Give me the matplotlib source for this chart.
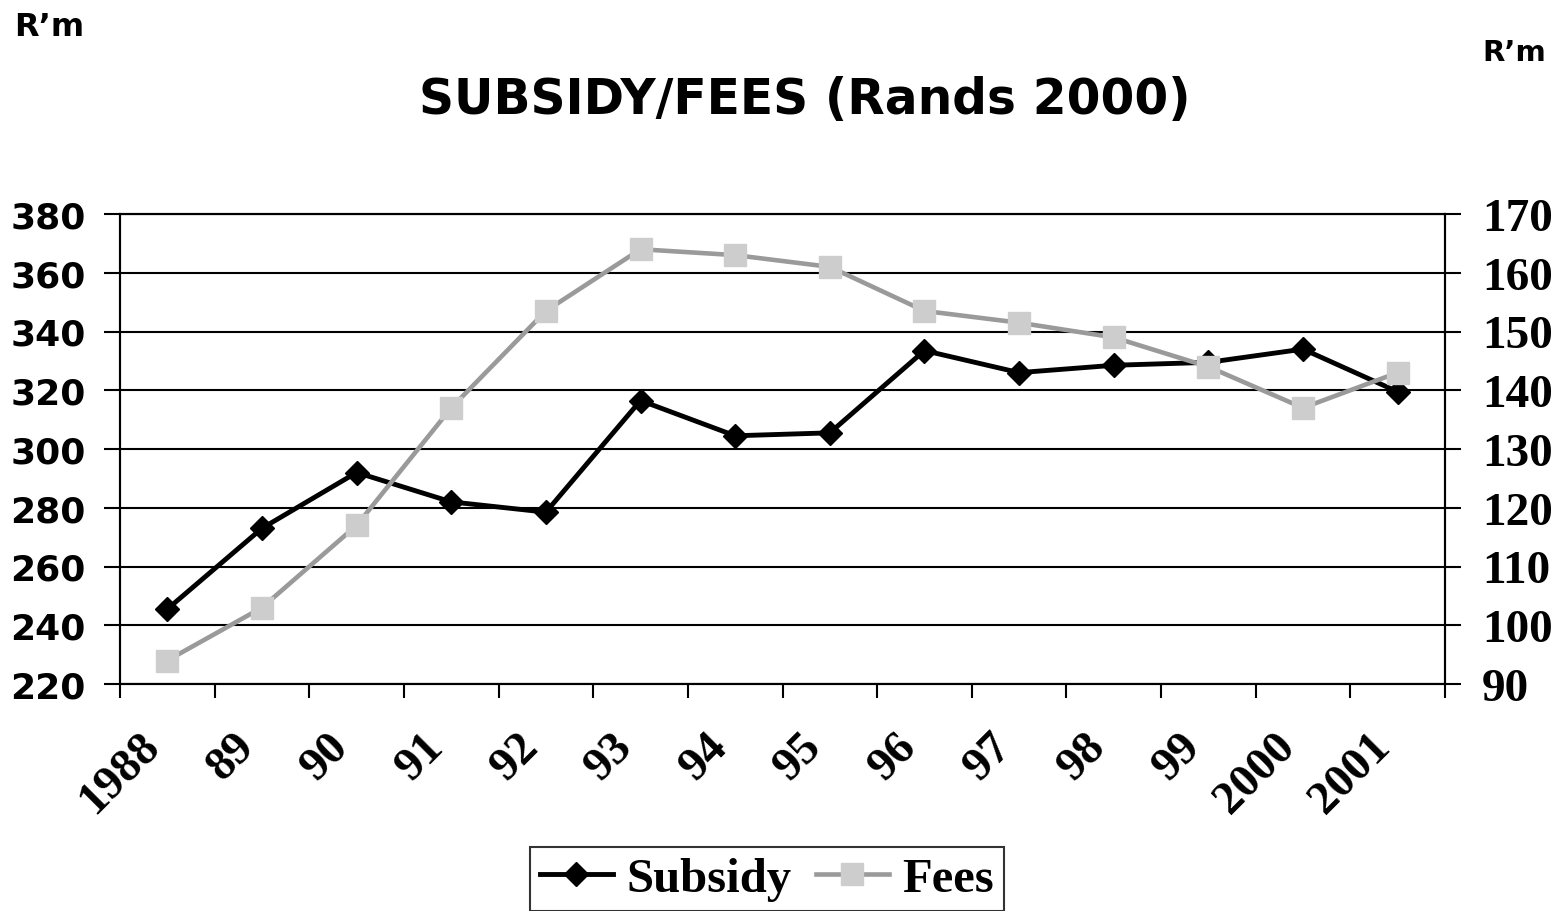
import numpy as np
import matplotlib
matplotlib.use("Agg")
import matplotlib.pyplot as plt
from matplotlib.transforms import ScaledTranslation

# data
years = ["1988", "89", "90", "91", "92", "93", "94", "95", "96", "97", "98", "99", "2000", "2001"]
subsidy = [245.5, 273, 292, 282, 278.5, 316.5, 304.5, 305.5, 333.5, 326, 328.5, 329.5, 334, 319.5]
fees = [94, 103, 117, 137, 153.5, 164, 163, 161, 153.5, 151.5, 149, 144, 137, 143]

sans = "DejaVu Sans"
serif = "Liberation Serif"

fig = plt.figure(figsize=(15.67, 9.12), dpi=100)
ax = fig.add_axes([120 / 1567, 1 - 685 / 912, 1325 / 1567, 470 / 912])
ax2 = ax.twinx()

x = np.arange(len(years))

ax.plot(x, subsidy, color="black", lw=3.5, marker="D", ms=12, zorder=3, label="Subsidy")
ax2.plot(x, fees, color="#9a9a9a", lw=3.3, marker="s", ms=16, mfc="#cdcdcd", mec="#cdcdcd",
         zorder=3, label="Fees")

ax.set_xlim(-0.5, len(years) - 0.5)
ax.set_ylim(220, 380)
ax2.set_ylim(90, 170)
ax.set_yticks(np.arange(220, 381, 20))
ax2.set_yticks(np.arange(90, 171, 10))

# ticks between categories, labels at the categories
ax.set_xticks(np.arange(-0.5, len(years)), minor=False)
ax.set_xticklabels([])
ax.set_xticks(x, minor=True)
ax.set_xticklabels(years, minor=True, rotation=45, ha="right", va="center",
                   rotation_mode="anchor", fontfamily=serif, fontweight="bold", fontsize=34)
ax.tick_params(axis="x", which="minor", length=0, pad=40)
ax.tick_params(axis="x", which="major", length=10, width=1.5, direction="out")
shift = ScaledTranslation(-0.14, 0, fig.dpi_scale_trans)
for lab in ax.get_xticklabels(minor=True):
    lab.set_transform(lab.get_transform() + shift)

ax.grid(axis="y", color="black", lw=1.5)
ax.set_axisbelow(True)
ax.tick_params(axis="y", length=11.5, width=1.5, direction="out", pad=13)
ax2.tick_params(axis="y", length=11.5, width=1.5, direction="out", pad=15)
for lab in ax.get_yticklabels():
    lab.set_fontfamily(sans)
    lab.set_fontweight("bold")
    lab.set_fontsize(26)
for lab in ax2.get_yticklabels():
    lab.set_fontfamily(serif)
    lab.set_fontweight("bold")
    lab.set_fontsize(34)

for a in (ax, ax2):
    for s in a.spines.values():
        s.set_linewidth(1.5)
        s.set_color("black")

fig.text(805 / 1567, 1 - 100 / 912, "SUBSIDY/FEES (Rands 2000)", ha="center", va="center",
         fontfamily=sans, fontsize=35, fontweight="bold")
fig.text(14 / 1567, 1 - 27 / 912, "R\u2019m", ha="left", va="center", fontfamily=sans,
         fontsize=23, fontweight="bold")
fig.text(1482 / 1567, 1 - 53 / 912, "R\u2019m", ha="left", va="center", fontfamily=sans,
         fontsize=21, fontweight="bold")

h1, l1 = ax.get_legend_handles_labels()
h2, l2 = ax2.get_legend_handles_labels()
leg = fig.legend(h1 + h2, l1 + l2, loc="center", bbox_to_anchor=(767 / 1567, 1 - 880 / 912),
                 ncol=2, frameon=True, fancybox=False, edgecolor="black", handlelength=1.5,
                 columnspacing=0.5, handletextpad=0.28, borderpad=0.2, borderaxespad=0,
                 prop={"family": serif, "weight": "bold", "size": 35})
leg.get_frame().set_linewidth(1.5)

fig.savefig("out.png", dpi=100, facecolor="white")
